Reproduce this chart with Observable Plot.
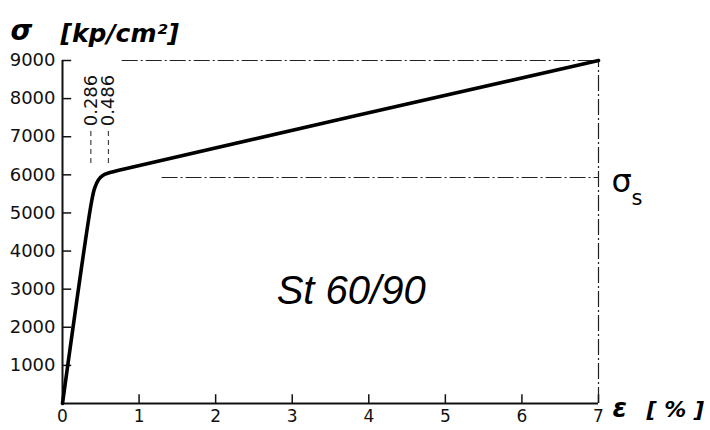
<!DOCTYPE html>
<html>
<head>
<meta charset="utf-8">
<script src="https://cdn.jsdelivr.net/npm/d3@7"></script>
<script src="https://cdn.jsdelivr.net/npm/@observablehq/plot@0.6"></script>
<style>
  html, body { margin: 0; padding: 0; background: #fff; }
</style>
</head>
<body>
<div id="chart"></div>
<script>
// Stress–strain curve of St 60/90
const strain = [0, 0.38, 0.42, 0.47, 0.53, 0.62, 0.75, 7];          // ε [%]
const stress = [0, 5300, 5650, 5870, 5990, 6060, 6130, 9000];       // σ [kp/cm²]
const xTicks = [0, 1, 2, 3, 4, 5, 6, 7];
const yTicks = [1000, 2000, 3000, 4000, 5000, 6000, 7000, 8000, 9000];
const yieldStress = 5930;      // σs level
const ultimateStress = 9000;   // top level
const strainMarks = [{x: 0.37, label: "0.286"}, {x: 0.60, label: "0.486"}];

const curve = strain.map((e, i) => ({e, s: stress[i]}));
const dashDot = "16,3,2,3";

const chart = Plot.plot({
  width: 710,
  height: 430,
  marginLeft: 62,
  marginRight: 112,
  marginTop: 60,
  marginBottom: 27,
  x: {domain: [0, 7]},
  y: {domain: [0, 9000]},
  style: {fontFamily: "DejaVu Sans", fontSize: "17px", color: "#111", background: "#fff"},
  marks: [
    // reference lines
    Plot.ruleY([ultimateStress], {x1: 0.78, x2: 7, stroke: "#222", strokeWidth: 1.2, strokeDasharray: dashDot}),
    Plot.ruleY([yieldStress], {x1: 1.3, x2: 7, stroke: "#222", strokeWidth: 1.2, strokeDasharray: dashDot}),
    Plot.ruleX([7], {y1: 0, y2: ultimateStress, stroke: "#222", strokeWidth: 1.2, strokeDasharray: dashDot}),
    // guides for the strain marks
    Plot.ruleX(strainMarks, {x: "x", y1: 6300, y2: 7200, stroke: "#444", strokeWidth: 1.2, strokeDasharray: "5,4"}),
    Plot.text(strainMarks, {x: "x", y: 7950, text: "label", rotate: -90, fontSize: 18, fill: "#111"}),
    // axes
    Plot.ruleX([0], {y1: 0, y2: 9000, stroke: "#111", strokeWidth: 2}),
    Plot.ruleY([0], {x1: 0, x2: 7, stroke: "#111", strokeWidth: 2}),
    Plot.ruleY(yTicks, {y: d => d, x1: 0, x2: 0.12, stroke: "#111", strokeWidth: 1.5}),
    Plot.ruleX(xTicks.slice(1), {x: d => d, y1: 0, y2: 230, stroke: "#111", strokeWidth: 1.5}),
    Plot.axisY({ticks: yTicks, tickFormat: d => String(d), tickSize: 0, tickPadding: 7, fontSize: 18, label: null}),
    Plot.axisX({ticks: xTicks, tickFormat: d => String(d), tickSize: 0, tickPadding: 6, fontSize: 17, label: null}),
    // curve
    Plot.line(curve, {x: "e", y: "s", stroke: "#000", strokeWidth: 3.6, curve: "catmull-rom", strokeLinejoin: "round"}),
    // annotations
    Plot.text(["St 60/90"], {x: 3.77, y: 2950, text: d => d, fontFamily: "Liberation Sans", fontStyle: "italic", fontSize: 40, letterSpacing: "1px", fill: "#000"}),
    Plot.text(["σ"], {x: 7.17, y: 5820, text: d => d, textAnchor: "start", fontSize: 32, fill: "#000"}),
    Plot.text(["s"], {x: 7.43, y: 5380, text: d => d, textAnchor: "start", fontSize: 21, fill: "#000"}),
    Plot.text(["σ"], {frameAnchor: "top-left", dx: -52, dy: -40, text: d => d, textAnchor: "start", fontSize: 28, fontStyle: "italic", fontWeight: "bold", fill: "#000"}),
    Plot.text(["[kp/cm²]"], {frameAnchor: "top-left", dx: -2, dy: -36, text: d => d, textAnchor: "start", fontSize: 25, fontStyle: "italic", fontWeight: "bold", letterSpacing: "3px", fill: "#000"}),
    Plot.text(["ε"], {frameAnchor: "bottom-right", dx: 14, dy: 13, text: d => d, textAnchor: "start", fontSize: 26, fontStyle: "italic", fontWeight: "bold", fill: "#000"}),
    Plot.text(["[ % ]"], {frameAnchor: "bottom-right", dx: 48, dy: 13, text: d => d, textAnchor: "start", fontSize: 22, fontStyle: "italic", fontWeight: "bold", fill: "#000"})
  ]
});
document.getElementById("chart").appendChild(chart);
</script>
</body>
</html>
